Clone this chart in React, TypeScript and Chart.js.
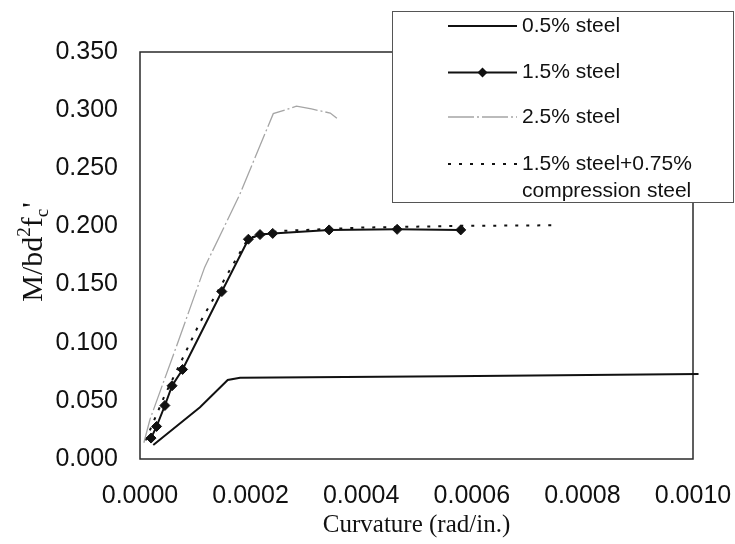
import React, { useEffect, useRef } from "react";
import { Chart, registerables } from "chart.js";

Chart.register(...registerables);

// ---- data ----
const steel05X = [0.000024, 0.0001085, 0.0001586, 0.000181, 0.00056, 0.00101];
const steel05Y = [0.012, 0.0445, 0.0679, 0.0699, 0.0712, 0.073];

const steel15X = [0.00002, 0.00003, 0.000045, 0.000058, 0.000077, 0.000148, 0.000196, 0.000217, 0.00024, 0.000342, 0.000465, 0.00058];
const steel15Y = [0.018, 0.028, 0.046, 0.063, 0.077, 0.144, 0.189, 0.193, 0.194, 0.197, 0.1975, 0.197];

const steel25X = [0.000007, 0.000018, 0.000066, 0.000117, 0.00018, 0.000241, 0.000262, 0.000283, 0.00031, 0.000344, 0.000356];
const steel25Y = [0.014, 0.034, 0.097, 0.165, 0.227, 0.297, 0.3, 0.3035, 0.301, 0.2975, 0.293];

const compX = [0.00001, 0.000045, 0.000108, 0.000157, 0.000196, 0.00025, 0.0004, 0.00058, 0.000757];
const compY = [0.016, 0.055, 0.117, 0.158, 0.19, 0.196, 0.199, 0.2005, 0.201];

const seriesLabels = ["0.5% steel", "1.5% steel", "2.5% steel", "1.5% steel+0.75%", "compression steel"];
const xTickStep = 0.0002;
const yTickStep = 0.05;
const xTitle = "Curvature (rad/in.)";

const zip = (xs: number[], ys: number[]) => xs.map((x, i) => ({ x, y: ys[i] }));

const GRAY = "#a5a5a5";
const DOT_DASH = [3, 8];
const DASH_DOT = [26, 3, 2, 3];

const framePlugin = {
  id: "frame",
  beforeDatasetsDraw(chart: any) {
    const { ctx, chartArea: a } = chart;
    ctx.save();
    ctx.strokeStyle = "#2a2a2a";
    ctx.lineWidth = 1.5;
    ctx.strokeRect(a.left, a.top, a.right - a.left, a.bottom - a.top);
    ctx.restore();
  },
};

const yTitlePlugin = {
  id: "ytitle",
  afterDraw(chart: any) {
    const { ctx, chartArea: a } = chart;
    const cy = (a.top + a.bottom) / 2 - 3;
    const base = 42;
    const big = "30px 'Liberation Serif', 'DejaVu Serif', serif";
    const small = "19px 'Liberation Serif', 'DejaVu Serif', serif";
    const pieces = [
      { t: "M/bd", f: big, dy: 0 },
      { t: "2", f: small, dy: -12 },
      { t: "f", f: big, dy: 0 },
      { t: "c", f: small, dy: 6 },
      { t: "'", f: big, dy: 0 },
    ];
    ctx.save();
    let total = 0;
    const widths = pieces.map((p) => {
      ctx.font = p.f;
      const w = ctx.measureText(p.t).width;
      total += w;
      return w;
    });
    ctx.translate(base, cy);
    ctx.rotate(-Math.PI / 2);
    ctx.fillStyle = "#111";
    ctx.textBaseline = "alphabetic";
    ctx.textAlign = "left";
    let x = -total / 2;
    pieces.forEach((p, i) => {
      ctx.font = p.f;
      ctx.fillText(p.t, x, p.dy);
      x += widths[i] + (p.t === "c" ? 1 : 0);
    });
    ctx.restore();
  },
};

const legendPlugin = {
  id: "customLegend",
  afterDraw(chart: any) {
    const { ctx } = chart;
    const bx = 392, by = 11, bw = 341, bh = 191;
    ctx.save();
    ctx.fillStyle = "#ffffff";
    ctx.fillRect(bx, by, bw, bh);
    ctx.strokeStyle = "#555";
    ctx.lineWidth = 1;
    ctx.strokeRect(bx + 0.5, by + 0.5, bw, bh);

    const x0 = 448, x1 = 517, tx = 522;
    const rows = [26, 72.5, 117, 164];
    ctx.font = "21px 'Liberation Sans', Arial, sans-serif";
    ctx.fillStyle = "#111";
    ctx.textBaseline = "middle";
    ctx.textAlign = "left";

    const line = (y: number, color: string, w: number, dash: number[]) => {
      ctx.beginPath();
      ctx.setLineDash(dash);
      ctx.strokeStyle = color;
      ctx.lineWidth = w;
      ctx.moveTo(x0, y);
      ctx.lineTo(x1, y);
      ctx.stroke();
      ctx.setLineDash([]);
    };
    line(rows[0], "#111", 2, []);
    line(rows[1], "#111", 2, []);
    // diamond
    const mx = (x0 + x1) / 2, my = rows[1], r = 5;
    ctx.beginPath();
    ctx.moveTo(mx, my - r);
    ctx.lineTo(mx + r, my);
    ctx.lineTo(mx, my + r);
    ctx.lineTo(mx - r, my);
    ctx.closePath();
    ctx.fillStyle = "#111";
    ctx.fill();
    line(rows[2], GRAY, 1.5, DASH_DOT);
    line(rows[3], "#111", 2, DOT_DASH);

    ctx.fillStyle = "#111";
    ctx.fillText(seriesLabels[0], tx, rows[0]);
    ctx.fillText(seriesLabels[1], tx, rows[1]);
    ctx.fillText(seriesLabels[2], tx, rows[2]);
    ctx.fillText(seriesLabels[3], tx, rows[3]);
    ctx.fillText(seriesLabels[4], tx, rows[3] + 27);
    ctx.restore();
  },
};

export default function App() {
  const ref = useRef<HTMLCanvasElement | null>(null);

  useEffect(() => {
    document.body.style.margin = "0";
    if (!ref.current) return;
    const chart = new Chart(ref.current, {
      type: "scatter",
      data: {
        datasets: [
          {
            label: seriesLabels[0],
            data: zip(steel05X, steel05Y),
            showLine: true,
            borderColor: "#111",
            borderWidth: 2,
            pointRadius: 0,
            clip: false as any,
          },
          {
            label: seriesLabels[1],
            data: zip(steel15X, steel15Y),
            showLine: true,
            borderColor: "#111",
            backgroundColor: "#111",
            borderWidth: 2,
            pointStyle: "rectRot",
            pointRadius: 5,
            pointBorderWidth: 1,
          },
          {
            label: seriesLabels[2],
            data: zip(steel25X, steel25Y),
            showLine: true,
            borderColor: GRAY,
            borderWidth: 1.3,
            borderDash: DASH_DOT,
            pointRadius: 0,
          },
          {
            label: seriesLabels[3],
            data: zip(compX, compY),
            showLine: true,
            borderColor: "#111",
            borderWidth: 2,
            borderDash: DOT_DASH,
            pointRadius: 0,
          },
        ],
      },
      options: {
        animation: false,
        responsive: false,
        maintainAspectRatio: false,
        layout: { padding: { top: 52, right: 42, bottom: 0, left: 0 } },
        plugins: {
          legend: { display: false },
          tooltip: { enabled: false },
        },
        scales: {
          x: {
            type: "linear",
            min: 0,
            max: 0.001,
            grid: { display: false, drawTicks: false },
            border: { display: false },
            ticks: {
              stepSize: xTickStep,
              padding: 22,
              color: "#111",
              font: { family: "'Liberation Sans', Arial, sans-serif", size: 25 },
              callback: (v: any) => Number(v).toFixed(4),
            },
            title: {
              display: true,
              text: xTitle,
              color: "#111",
              font: { family: "'Liberation Serif', 'DejaVu Serif', serif", size: 25 },
              padding: { top: 0, bottom: 4 },
            },
            afterFit: (s: any) => {
              s.height = 85;
              s.paddingLeft = 0;
              s.paddingRight = 0;
            },
          },
          y: {
            type: "linear",
            min: 0,
            max: 0.35,
            grid: { display: false, drawTicks: false },
            border: { display: false },
            ticks: {
              stepSize: yTickStep,
              padding: 22,
              color: "#111",
              font: { family: "'Liberation Sans', Arial, sans-serif", size: 25 },
              callback: (v: any) => Number(v).toFixed(3),
            },
            afterFit: (s: any) => {
              s.width = 140;
              s.paddingTop = 0;
              s.paddingBottom = 0;
            },
          },
        },
      },
      plugins: [framePlugin, yTitlePlugin, legendPlugin],
    });
    return () => chart.destroy();
  }, []);

  return (
    <div style={{ width: 735, height: 544, position: "relative", background: "#fff" }}>
      <canvas ref={ref} width={735} height={544} style={{ display: "block" }} />
    </div>
  );
}
